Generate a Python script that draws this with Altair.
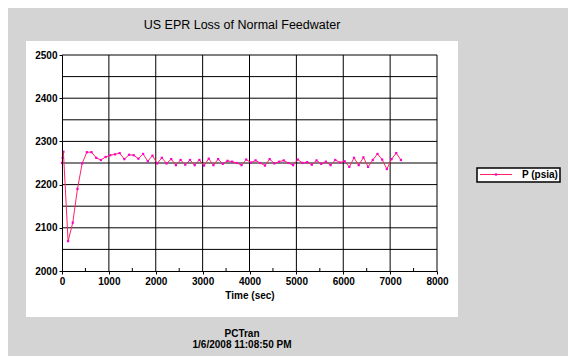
import altair as alt
import pandas as pd

# ---- data ----
time_sec = [0, 15, 30, 130, 230, 330, 430, 530, 630, 730, 830, 930, 1030, 1130, 1230,
            1330, 1430, 1530, 1630, 1730, 1830, 1930, 2030, 2130, 2230, 2330, 2430,
            2530, 2630, 2730, 2830, 2930, 3030, 3130, 3230, 3330, 3430, 3530, 3630,
            3730, 3830, 3930, 4030, 4130, 4230, 4330, 4430, 4530, 4630, 4730, 4830,
            4930, 5030, 5130, 5230, 5330, 5430, 5530, 5630, 5730, 5830, 5930, 6030,
            6130, 6230, 6330, 6430, 6530, 6630, 6730, 6830, 6930, 7030, 7130, 7230]
pressure_psia = [2250, 2262, 2276, 2069, 2112, 2190, 2249, 2275, 2275, 2262, 2257, 2264,
                 2268, 2270, 2273, 2259, 2269, 2268, 2260, 2271, 2254, 2267, 2249, 2262,
                 2249, 2259, 2245, 2257, 2246, 2257, 2245, 2257, 2244, 2260, 2245, 2259,
                 2248, 2255, 2253, 2250, 2245, 2258, 2251, 2256, 2250, 2244, 2259, 2249,
                 2253, 2256, 2250, 2245, 2258, 2250, 2252, 2246, 2256, 2248, 2253, 2245,
                 2257, 2251, 2254, 2241, 2262, 2245, 2263, 2241, 2257, 2271, 2258, 2236,
                 2259, 2273, 2257]

x_ticks = list(range(0, 8001, 500))
y_ticks = list(range(2000, 2501, 50))
x_grid = list(range(1000, 8001, 1000))
y_grid = list(range(2050, 2501, 50))
x_minor = list(range(500, 8000, 1000))

series_name = "P (psia)"
chart_title = "US EPR Loss of Normal Feedwater"
footer_1 = "PCTran"
footer_2 = "1/6/2008 11:08:50 PM"
x_title = "Time (sec)"

LINE = "#ff2266"
MARK = "#ff00cc"
FONT = "Liberation Sans"

df = pd.DataFrame({"t": time_sec, "p": pressure_psia})
dfx = pd.DataFrame({"g": x_grid})
dfy = pd.DataFrame({"g": y_grid})
dfm = pd.DataFrame({"m": x_minor})
one = pd.DataFrame({"a": [0]})

xs = alt.Scale(domain=[0, 8000], nice=False, zero=False)
ys = alt.Scale(domain=[2000, 2500], nice=False, zero=False)

x_axis = alt.Axis(values=x_ticks, labelExpr="datum.value % 1000 == 0 ? datum.label : ''",
                  format="d", grid=False, tickSize=3, tickColor="black", domainColor="black",
                  labelFont=FONT, labelFontWeight="bold", labelFontSize=10, labelColor="black",
                  labelPadding=2, labelFlush=False, labelOverlap=False,
                  title=x_title, titleFont=FONT, titleFontWeight="bold",
                  titleFontSize=10, titleColor="black", titlePadding=4, zindex=1)
y_axis = alt.Axis(values=y_ticks, labelExpr="datum.value % 100 == 0 ? datum.label : ''",
                  format="d", grid=False, tickSize=3, tickColor="black", domainColor="black",
                  labelFont=FONT, labelFontWeight="bold", labelFontSize=10, labelColor="black",
                  labelPadding=2, labelFlush=False, labelOverlap=False, title=None, zindex=1)

panel = alt.Chart(one).mark_rect(color="white").encode(
    x=alt.value(-36), x2=alt.value(396), y=alt.value(-14), y2=alt.value(262))

vgrid = alt.Chart(dfx).mark_rule(color="black", strokeWidth=1).encode(
    x=alt.X("g:Q", scale=xs), y=alt.value(0), y2=alt.value(216))
hgrid = alt.Chart(dfy).mark_rule(color="black", strokeWidth=1).encode(
    y=alt.Y("g:Q", scale=ys), x=alt.value(0), x2=alt.value(375))
minor = alt.Chart(dfm).mark_rule(color="black", strokeWidth=1).encode(
    x=alt.X("m:Q", scale=xs), y=alt.value(213), y2=alt.value(216))

line = alt.Chart(df).mark_line(color=LINE, strokeWidth=1).encode(
    x=alt.X("t:Q", scale=xs, axis=x_axis),
    y=alt.Y("p:Q", scale=ys, axis=y_axis))
pts = alt.Chart(df).mark_point(color=MARK, filled=True, shape="square", size=5, opacity=1).encode(
    x=alt.X("t:Q", scale=xs), y=alt.Y("p:Q", scale=ys))

leg_box = alt.Chart(one).mark_rect(fill="white", stroke="black", strokeWidth=1.5).encode(
    x=alt.value(415), x2=alt.value(498), y=alt.value(113), y2=alt.value(127))
leg_line = alt.Chart(one).mark_rule(color=LINE, strokeWidth=1).encode(
    x=alt.value(418), x2=alt.value(450), y=alt.value(119.5))
leg_pt = alt.Chart(one).mark_point(color=MARK, filled=True, shape="square", size=5, opacity=1).encode(
    x=alt.value(434), y=alt.value(119.5))
leg_txt = alt.Chart(one).mark_text(text=series_name, font=FONT, fontWeight="bold", fontSize=10,
                                   align="left", baseline="middle", color="black").encode(
    x=alt.value(460), y=alt.value(120))

title = alt.Chart(one).mark_text(text=chart_title, font=FONT, fontSize=12.5,
                                 align="center", baseline="middle", color="black").encode(
    x=alt.value(180), y=alt.value(-30))
foot1 = alt.Chart(one).mark_text(text=footer_1, font=FONT, fontWeight="bold", fontSize=10,
                                 align="center", baseline="middle", color="black").encode(
    x=alt.value(180), y=alt.value(279))
foot2 = alt.Chart(one).mark_text(text=footer_2, font=FONT, fontWeight="bold", fontSize=10,
                                 align="center", baseline="middle", color="black").encode(
    x=alt.value(180), y=alt.value(290))

chart = alt.layer(panel, vgrid, hgrid, minor, line, pts, leg_box, leg_line, leg_pt, leg_txt,
                  title, foot1, foot2).properties(
    width=375, height=216,
    autosize=alt.AutoSizeParams(type="none"),
    padding={"left": 54, "top": 47, "right": 131, "bottom": 85},
    background="#d4d4d4",
).configure_view(stroke=None)

chart.save("out.html", embed_options={"renderer": "svg", "actions": False})
